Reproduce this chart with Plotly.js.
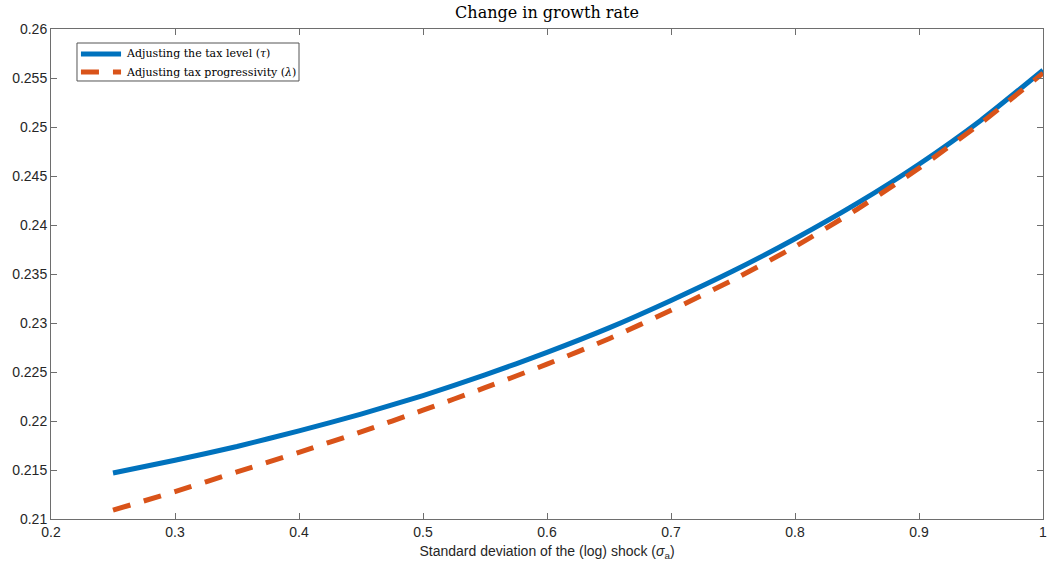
<!DOCTYPE html>
<html>
<head>
<meta charset="utf-8">
<script src="https://cdn.plot.ly/plotly-3.0.1.min.js"></script>
<style>html,body{margin:0;padding:0;background:#fff}#chart{width:1047px;height:569px}</style>
</head>
<body>
<div id="chart"></div>
<script>
const sigma = [0.25, 0.30, 0.35, 0.40, 0.45, 0.50, 0.55, 0.60, 0.65, 0.70, 0.75, 0.80, 0.85, 0.90, 0.95, 1.00];
const taxLevel = [0.2147, 0.2160, 0.2174, 0.2190, 0.2207, 0.2226, 0.2247, 0.2270, 0.2295, 0.2323, 0.2353, 0.2386, 0.2422, 0.2462, 0.2507, 0.2558];
const taxProgressivity = [0.2109, 0.2128, 0.2148, 0.2168, 0.2189, 0.2211, 0.2234, 0.2258, 0.2284, 0.2313, 0.2344, 0.2378, 0.2416, 0.2458, 0.2504, 0.2555];
const seriesNames = ['Adjusting the tax level (<i>τ</i>)', 'Adjusting tax progressivity (<i>λ</i>)'];
const seriesColors = ['#0072BD', '#D95319'];
const xTicks = [0.2, 0.3, 0.4, 0.5, 0.6, 0.7, 0.8, 0.9, 1];
const xTickText = ['0.2', '0.3', '0.4', '0.5', '0.6', '0.7', '0.8', '0.9', '1'];
const yTicks = [0.21, 0.215, 0.22, 0.225, 0.23, 0.235, 0.24, 0.245, 0.25, 0.255, 0.26];
const yTickText = ['0.21', '0.215', '0.22', '0.225', '0.23', '0.235', '0.24', '0.245', '0.25', '0.255', '0.26'];

const axisColor = '#6e6e6e';
const tickFont = {family: 'Liberation Sans, Arial, sans-serif', size: 14, color: '#262626'};
const legendFont = {family: 'DejaVu Serif, serif', size: 11, color: '#000'};
const dashPattern = '18px,14px';

const traces = [
  {x: sigma, y: taxLevel, name: seriesNames[0], mode: 'lines',
   line: {color: seriesColors[0], width: 5, shape: 'spline', smoothing: 0.6}},
  {x: sigma, y: taxProgressivity, name: seriesNames[1], mode: 'lines',
   line: {color: seriesColors[1], width: 5, dash: dashPattern, shape: 'spline', smoothing: 0.6}}
];

// Legend box (paper coordinates of the plot area)
const lgX0 = 0.0262, lgX1 = 0.2500, lgY0 = 0.8939, lgY1 = 0.9714;
const rowY = [0.949, 0.9122];
const sampleX0 = 0.0302, sampleX1 = 0.0706, textX = 0.0736;

const shapes = [
  {type: 'rect', xref: 'paper', yref: 'paper', x0: lgX0, x1: lgX1, y0: lgY0, y1: lgY1,
   line: {color: '#555', width: 1}, fillcolor: '#ffffff', layer: 'above'},
  {type: 'line', xref: 'paper', yref: 'paper', x0: sampleX0, x1: sampleX1, y0: rowY[0], y1: rowY[0],
   line: {color: seriesColors[0], width: 5}, layer: 'above'},
  {type: 'line', xref: 'paper', yref: 'paper', x0: sampleX0, x1: sampleX1, y0: rowY[1], y1: rowY[1],
   line: {color: seriesColors[1], width: 5, dash: dashPattern}, layer: 'above'}
];
const annotations = seriesNames.map((n, i) => ({
  text: n, xref: 'paper', yref: 'paper', x: textX, y: rowY[i], xanchor: 'left', yanchor: 'middle',
  showarrow: false, font: legendFont
}));

const layout = {
  width: 1047, height: 569,
  margin: {l: 51, r: 4, t: 29, b: 50},
  paper_bgcolor: '#ffffff', plot_bgcolor: '#ffffff',
  showlegend: false,
  title: {text: 'Change in growth rate', font: {family: 'DejaVu Serif, serif', size: 16, color: '#000'},
          xref: 'paper', x: 0.5, xanchor: 'center', y: 1, yref: 'container', yanchor: 'top', pad: {t: 7}},
  xaxis: {range: [0.2, 1], tickvals: xTicks, ticktext: xTickText, ticks: 'inside', ticklen: 6,
          tickcolor: axisColor, showline: true, linecolor: axisColor, linewidth: 1, mirror: 'ticks',
          showgrid: false, zeroline: false, tickfont: tickFont, ticklabeloverflow: 'allow',
          title: {text: 'Standard deviation of the (log) shock (<i>σ</i><sub>a</sub>)', font: tickFont, standoff: 7}},
  yaxis: {range: [0.21, 0.26], tickvals: yTicks, ticktext: yTickText, ticks: 'inside', ticklen: 6,
          tickcolor: axisColor, showline: true, linecolor: axisColor, linewidth: 1, mirror: 'ticks',
          showgrid: false, zeroline: false, tickfont: tickFont, ticklabeloverflow: 'allow'},
  shapes: shapes,
  annotations: annotations
};

Plotly.newPlot('chart', traces, layout, {staticPlot: true, displayModeBar: false});
</script>
</body>
</html>
